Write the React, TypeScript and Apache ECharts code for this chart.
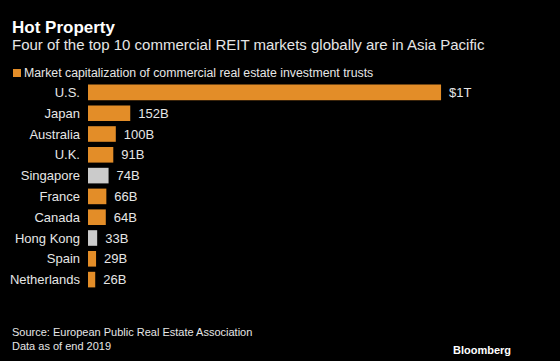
import React, { useEffect, useRef } from "react";
import * as echarts from "echarts";

const categories = ["U.S.", "Japan", "Australia", "U.K.", "Singapore", "France", "Canada", "Hong Kong", "Spain", "Netherlands"];
const values = [1270, 152, 100, 91, 74, 66, 64, 33, 29, 26];
const valueLabels = ["$1T", "152B", "100B", "91B", "74B", "66B", "64B", "33B", "29B", "26B"];
const asiaPacificGrey = [false, false, false, false, true, false, false, true, false, false];

const ORANGE = "#e38d28";
const GREY = "#cbcbcb";
const TEXT = "#e6e6e6";
const FONT = "'Liberation Sans', Arial, sans-serif";

export default function App() {
  const ref = useRef<HTMLDivElement>(null);
  useEffect(() => {
    document.body.style.margin = "0";
    document.body.style.background = "#000";
    const chart = echarts.init(ref.current!, null, { renderer: "svg" });
    const data = values.map((v, i) => ({
      value: v,
      itemStyle: { color: asiaPacificGrey[i] ? GREY : ORANGE },
      label: { formatter: valueLabels[i] },
    }));
    chart.setOption({
      animation: false,
      backgroundColor: "#000",
      textStyle: { fontFamily: FONT },
      title: [
        {
          text: "Hot Property",
          left: 12,
          top: 19,
          padding: 0,
          textStyle: { color: "#ffffff", fontSize: 17, fontWeight: "bold", fontFamily: FONT },
        },
        {
          text: "Four of the top 10 commercial REIT markets globally are in Asia Pacific",
          left: 12,
          top: 37,
          padding: 0,
          textStyle: { color: TEXT, fontSize: 15, fontWeight: "normal", fontFamily: FONT },
        },
        {
          text: "Source: European Public Real Estate Association\nData as of end 2019",
          left: 12,
          top: 325,
          padding: 0,
          textStyle: { color: TEXT, fontSize: 11, fontWeight: "normal", lineHeight: 14, fontFamily: FONT },
        },
        {
          text: "Bloomberg",
          right: 49,
          top: 344,
          padding: 0,
          textStyle: { color: "#ffffff", fontSize: 11, fontWeight: "bold", fontFamily: FONT },
        },
      ],
      legend: {
        left: 8,
        top: 62,
        itemWidth: 8,
        itemHeight: 8,
        itemGap: 6,
        icon: "rect",
        textStyle: { color: TEXT, fontSize: 12.3, fontFamily: FONT, padding: [0, 0, 0, -2] },
        data: ["Market capitalization of commercial real estate investment trusts"],
      },
      grid: { left: 88, top: 82, height: 208, width: 417 },
      xAxis: {
        type: "value",
        min: 0,
        max: 1500,
        show: false,
      },
      yAxis: {
        type: "category",
        data: categories,
        inverse: true,
        axisLine: { show: false },
        axisTick: { show: false },
        splitLine: { show: false },
        axisLabel: { color: TEXT, fontSize: 13, margin: 8, fontFamily: FONT },
      },
      series: [
        {
          name: "Market capitalization of commercial real estate investment trusts",
          type: "bar",
          data,
          barWidth: "75%",
          itemStyle: { color: ORANGE },
          label: {
            show: true,
            position: "right",
            distance: 8,
            color: TEXT,
            fontSize: 13,
            fontFamily: FONT,
          },
        },
      ],
    });
    return () => chart.dispose();
  }, []);
  return <div ref={ref} style={{ width: 560, height: 361 }} />;
}
